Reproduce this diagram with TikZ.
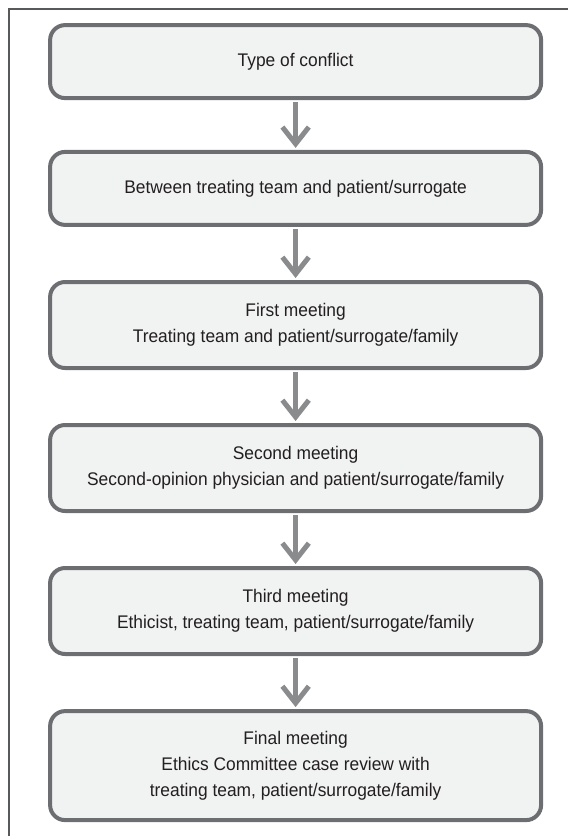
\documentclass[tikz,border=0pt]{standalone}
\usepackage{fontspec}
\setmainfont[FakeStretch=0.95]{Liberation Sans}
\usetikzlibrary{arrows.meta, positioning}
\usepackage{xcolor}
\definecolor{boxline}{HTML}{6D6E71}
\definecolor{boxfill}{HTML}{F1F2F2}
\definecolor{arrowgray}{HTML}{8A8B8D}
\definecolor{framegray}{HTML}{58595B}
\definecolor{textgray}{HTML}{231F20}
\def\boxwidth{12.275cm}

\begin{document}
\begin{tikzpicture}[-{Straight Barb[length=0.42cm,width=0.66cm]}, shorten >=0.05cm, shorten <=0.05cm, draw=arrowgray, line width=0.125cm]
    \tikzstyle{stage}=[rectangle, rounded corners=0.375cm, draw=boxline, fill=boxfill, line width=0.1cm, minimum width=\boxwidth, align=center, text=textgray, font=\fontsize{13}{18.5}\selectfont]
    \tikzstyle{single stage}=[stage, minimum height=1.825cm];
    \tikzstyle{double stage}=[stage, minimum height=2.15cm];
    \tikzstyle{triple stage}=[stage, minimum height=2.725cm];

    \useasboundingbox (0,0) rectangle (14.2,-20.9);
    \draw[-, line width=0.04cm, draw=framegray, shorten >=0pt, shorten <=0pt] (0.225,-20.9) -- (0.225,-0.225) -- (14.2,-0.225);

    \node[single stage] (C) at (7.39,-1.54) {Type of conflict};
    \node[single stage] (B) at (7.39,-4.71) {Between treating team and patient/surrogate};

    \node[double stage] (M-1) at (7.39,-8.125) {First meeting\\Treating team and patient/surrogate/family};
    \node[double stage] (M-2) at (7.39,-11.7) {Second meeting\\Second-opinion physician and patient/surrogate/family};
    \node[double stage] (M-3) at (7.39,-15.275) {Third meeting\\Ethicist, treating team, patient/surrogate/family};

    \node[triple stage] (M-F) at (7.39,-19.14) {Final meeting\\Ethics Committee case review with\\treating team, patient/surrogate/family};

    \draw (C) -- (B);
    \draw (B) -- (M-1);
    \draw (M-1) -- (M-2);
    \draw (M-2) -- (M-3);
    \draw (M-3) -- (M-F);
\end{tikzpicture}
\end{document}
